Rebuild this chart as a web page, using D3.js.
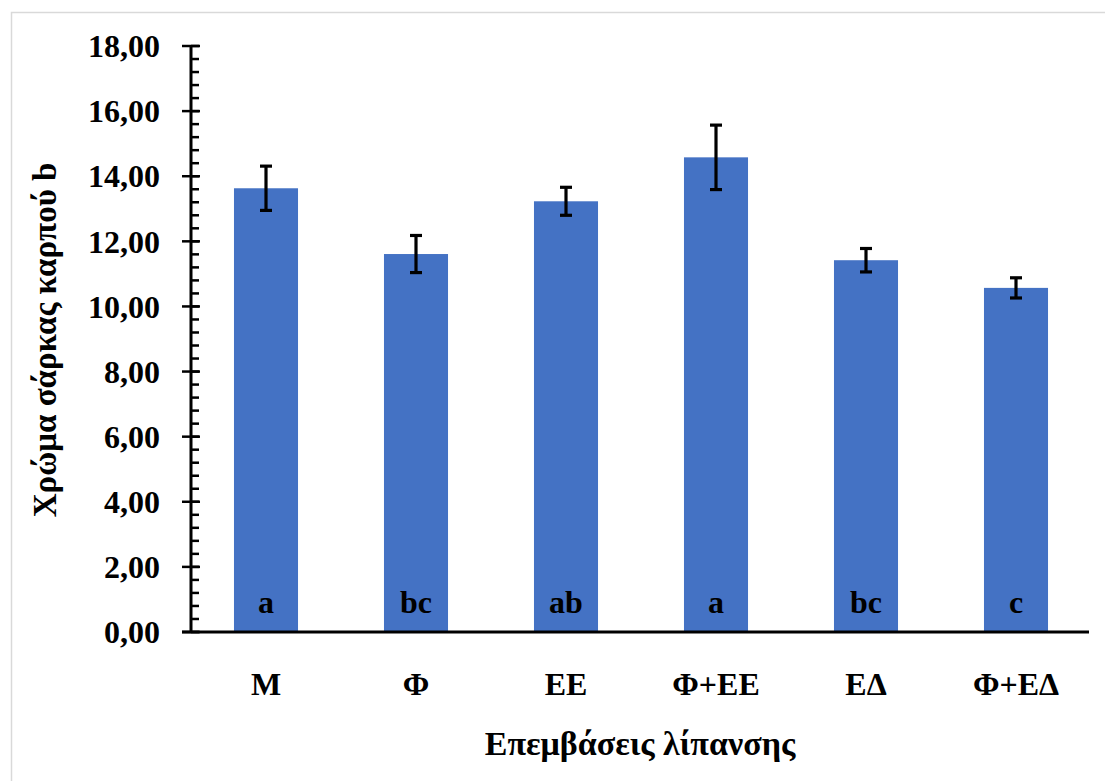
<!DOCTYPE html>
<html><head><meta charset="utf-8">
<script src="https://cdn.jsdelivr.net/npm/d3@7"></script>
<style>body{margin:0;background:#fff}svg{display:block}text{font-family:"Liberation Serif","Times New Roman",serif;font-weight:bold;fill:#000}</style>
</head><body>
<svg id="c" width="1105" height="781"></svg>
<script>
const categories = ["Μ","Φ","ΕΕ","Φ+ΕΕ","ΕΔ","Φ+ΕΔ"];
const values = [13.63, 11.61, 13.23, 14.58, 11.42, 10.57];
const errors = [0.68, 0.57, 0.43, 0.99, 0.36, 0.31];
const letters = ["a","bc","ab","a","bc","c"];
const yTicks = [0,2,4,6,8,10,12,14,16,18];
const yTickLabels = ["0,00","2,00","4,00","6,00","8,00","10,00","12,00","14,00","16,00","18,00"];

const svg = d3.select("#c");
svg.append("rect").attr("x",11.5).attr("y",12.5).attr("width",1110).attr("height",800)
  .attr("fill","#fff").attr("stroke","#d9d9d9").attr("stroke-width",1.5);

const x = d3.scaleBand().domain(categories).range([191,1091]).paddingInner(0.573).paddingOuter(0.2865);
const y = d3.scaleLinear().domain([0,18]).range([632,46]);

// bars
svg.append("g").selectAll("rect").data(categories).join("rect")
  .attr("x",d=>x(d)).attr("width",x.bandwidth())
  .attr("y",(d,i)=>y(values[i])).attr("height",(d,i)=>y(0)-y(values[i]))
  .attr("fill","#4472c4");

// error bars
const eb = svg.append("g").attr("stroke","#000").attr("stroke-width",3.2);
categories.forEach((c,i)=>{
  const cx = x(c)+x.bandwidth()/2;
  const t = y(values[i]+errors[i]), b = y(values[i]-errors[i]);
  eb.append("line").attr("x1",cx).attr("x2",cx).attr("y1",t).attr("y2",b);
  eb.append("line").attr("x1",cx-6).attr("x2",cx+6).attr("y1",t).attr("y2",t);
  eb.append("line").attr("x1",cx-6).attr("x2",cx+6).attr("y1",b).attr("y2",b);
});

// letters
svg.append("g").selectAll("text").data(categories).join("text")
  .attr("x",d=>x(d)+x.bandwidth()/2).attr("y",613)
  .attr("text-anchor","middle").attr("font-size",32).text((d,i)=>letters[i]);

// y axis
const ax = svg.append("g").attr("stroke","#000");
const minor = d3.range(0,18.0001,0.4);
ax.selectAll("line.mn").data(minor).join("line")
  .attr("x1",191).attr("x2",199).attr("y1",d=>y(d)).attr("y2",d=>y(d)).attr("stroke-width",2.5);
ax.selectAll("line.mj").data(yTicks).join("line")
  .attr("x1",182).attr("x2",200).attr("y1",d=>y(d)).attr("y2",d=>y(d)).attr("stroke-width",2.5);
ax.append("line").attr("x1",191).attr("x2",191).attr("y1",y(18)).attr("y2",y(0)).attr("stroke-width",3);
// x axis
ax.append("line").attr("x1",182).attr("x2",1089).attr("y1",y(0)).attr("y2",y(0)).attr("stroke-width",3);

svg.append("g").selectAll("text").data(yTicks).join("text")
  .attr("x",160).attr("y",d=>y(d)).attr("dy","0.35em").attr("text-anchor","end")
  .attr("font-size",32).text((d,i)=>yTickLabels[i]);

svg.append("g").selectAll("text").data(categories).join("text")
  .attr("x",d=>x(d)+x.bandwidth()/2).attr("y",695).attr("text-anchor","middle")
  .attr("font-size",32).text(d=>d);

svg.append("text").attr("x",640).attr("y",755).attr("text-anchor","middle")
  .attr("font-size",34).text("Επεμβάσεις λίπανσης");
svg.append("text").attr("transform","translate(56,340) rotate(-90)").attr("text-anchor","middle")
  .attr("font-size",33).text("Χρώμα σάρκας καρπού b");
</script>
</body></html>
